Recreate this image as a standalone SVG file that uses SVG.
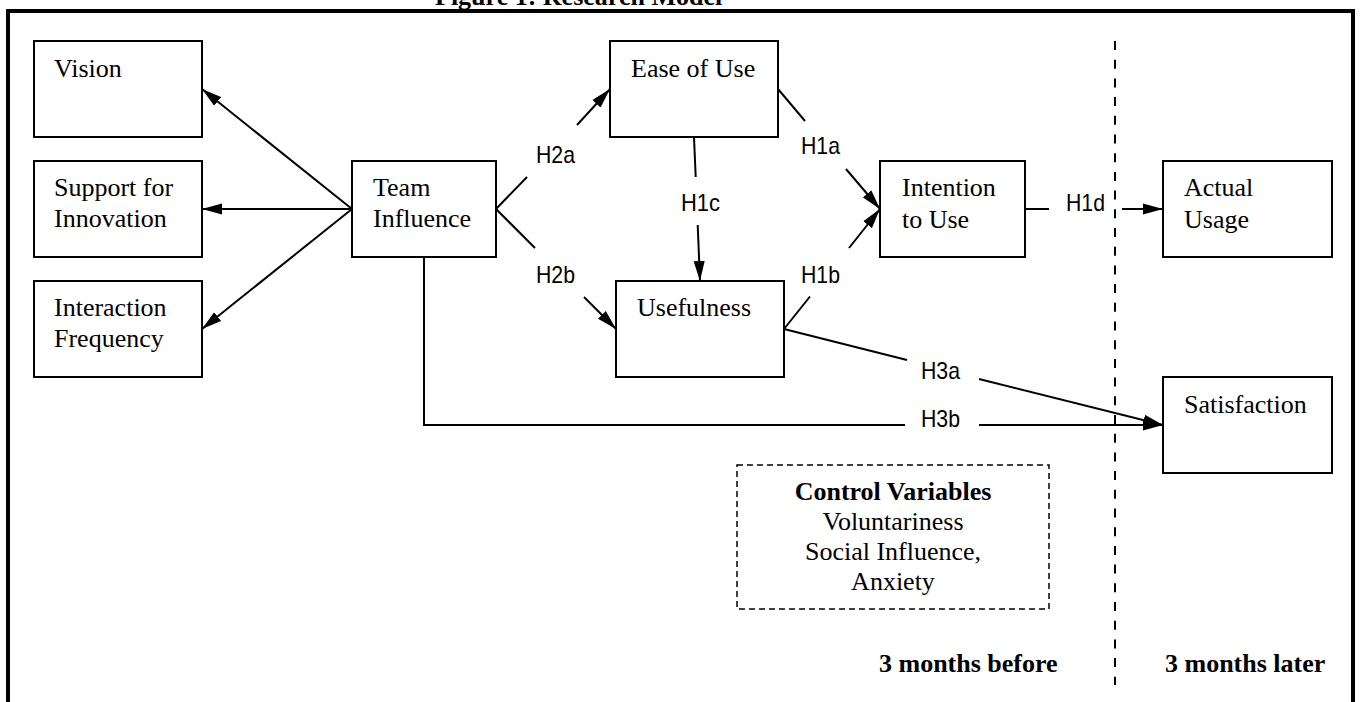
<svg xmlns="http://www.w3.org/2000/svg" width="1360" height="702" viewBox="0 0 1360 702">
<style>
.box{fill:#fff;stroke:#000;stroke-width:2}
.t{font-family:"Liberation Serif","Times New Roman",serif;font-size:26px;fill:#000}
.b{font-weight:bold}
.lbl{font-family:"Liberation Sans",Arial,sans-serif;font-size:24px;fill:#000}
.c{fill:none;stroke:#000;stroke-width:2}
</style>
<defs>
<marker id="ah" markerUnits="userSpaceOnUse" markerWidth="20" markerHeight="12" refX="18" refY="5" orient="auto" viewBox="0 0 18 10">
<path d="M0,0 L18,5 L0,10 z" fill="#000"/>
</marker>
</defs>
<rect width="1360" height="702" fill="#fff"/>
<text class="t b" x="435" y="5">Figure 1: Research Model</text>
<path d="M8,710 V11 H1353 V710" fill="none" stroke="#000" stroke-width="4"/>
<path d="M1115,41 V685" fill="none" stroke="#000" stroke-width="2" stroke-dasharray="9 9.7"/>

<g id="connectors">
<path class="c" d="M352,209 L202,89" marker-end="url(#ah)"/>
<path class="c" d="M352,209 L202,209" marker-end="url(#ah)"/>
<path class="c" d="M352,209 L202,329" marker-end="url(#ah)"/>
<path class="c" d="M496,209 L527,177"/>
<path class="c" d="M577,125 L610,89" marker-end="url(#ah)"/>
<path class="c" d="M496,209 L535,248"/>
<path class="c" d="M584,297 L616,329" marker-end="url(#ah)"/>
<path class="c" d="M694,137 L695.7,177"/>
<path class="c" d="M697.7,225 L700,281" marker-end="url(#ah)"/>
<path class="c" d="M778,89 L805,121"/>
<path class="c" d="M846,169 L880,209" marker-end="url(#ah)"/>
<path class="c" d="M784,329 L810,296.5"/>
<path class="c" d="M849,248 L880,209" marker-end="url(#ah)"/>
<path class="c" d="M1025,209 L1049,209"/>
<path class="c" d="M1122,209 L1163,209" marker-end="url(#ah)"/>
<path class="c" d="M784,329 L907,360"/>
<path class="c" d="M979,379 L1163,425" marker-end="url(#ah)"/>
<path class="c" d="M424,257 V425 H905"/>
<path class="c" d="M979,425 H1163" marker-end="url(#ah)"/>
<text class="lbl" x="536" y="163" textLength="39" lengthAdjust="spacingAndGlyphs">H2a</text>
<text class="lbl" x="536" y="283" textLength="39" lengthAdjust="spacingAndGlyphs">H2b</text>
<text class="lbl" x="681" y="211" textLength="39" lengthAdjust="spacingAndGlyphs">H1c</text>
<text class="lbl" x="801" y="154" textLength="39" lengthAdjust="spacingAndGlyphs">H1a</text>
<text class="lbl" x="801" y="283" textLength="39" lengthAdjust="spacingAndGlyphs">H1b</text>
<text class="lbl" x="1066" y="211" textLength="39" lengthAdjust="spacingAndGlyphs">H1d</text>
<text class="lbl" x="921" y="379" textLength="39" lengthAdjust="spacingAndGlyphs">H3a</text>
<text class="lbl" x="921" y="427" textLength="39" lengthAdjust="spacingAndGlyphs">H3b</text>
</g>

<g id="vision"><rect class="box" x="34" y="41" width="168" height="96"/><text class="t" x="54" y="77">Vision</text></g>
<g id="support"><rect class="box" x="34" y="161" width="168" height="96"/><text class="t" x="54" y="196">Support for</text><text class="t" x="54" y="227">Innovation</text></g>
<g id="interaction"><rect class="box" x="34" y="281" width="168" height="96"/><text class="t" x="54" y="316">Interaction</text><text class="t" x="54" y="347">Frequency</text></g>
<g id="team"><rect class="box" x="352" y="161" width="144" height="96"/><text class="t" x="373" y="196">Team</text><text class="t" x="373" y="227">Influence</text></g>
<g id="ease"><rect class="box" x="610" y="41" width="168" height="96"/><text class="t" x="631" y="77">Ease of Use</text></g>
<g id="usefulness"><rect class="box" x="616" y="281" width="168" height="96"/><text class="t" x="637" y="316">Usefulness</text></g>
<g id="intention"><rect class="box" x="880" y="161" width="145" height="96"/><text class="t" x="902" y="196">Intention</text><text class="t" x="902" y="228">to Use</text></g>
<g id="actual"><rect class="box" x="1163" y="161" width="169" height="96"/><text class="t" x="1184" y="196">Actual</text><text class="t" x="1184" y="228">Usage</text></g>
<g id="satisfaction"><rect class="box" x="1163" y="377" width="169" height="96"/><text class="t" x="1184" y="413">Satisfaction</text></g>
<g id="control">
<rect x="737" y="465" width="312" height="144" fill="none" stroke="#000" stroke-width="1.5" stroke-dasharray="6 4"/>
<text class="t b" x="893" y="500" text-anchor="middle">Control Variables</text>
<text class="t" x="893" y="530" text-anchor="middle">Voluntariness</text>
<text class="t" x="893" y="560" text-anchor="middle">Social Influence,</text>
<text class="t" x="893" y="590" text-anchor="middle">Anxiety</text>
</g>
<text class="t b" x="879" y="672">3 months before</text>
<text class="t b" x="1165" y="672">3 months later</text>
</svg>
